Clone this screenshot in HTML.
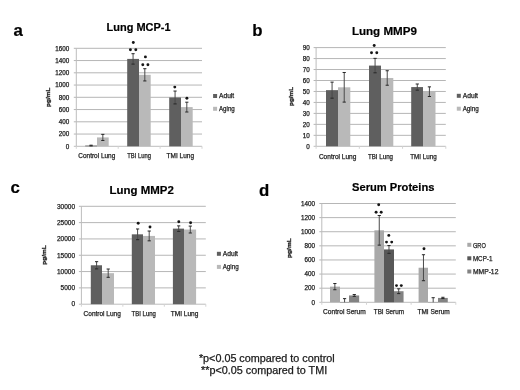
<!DOCTYPE html>
<html><head><meta charset="utf-8"><title>Figure</title>
<style>
html,body{margin:0;padding:0;background:#fff;}
body{width:520px;height:390px;overflow:hidden;}
svg{display:block;font-family:"Liberation Sans",sans-serif;filter:blur(0.35px);}
</style></head>
<body>
<svg width="520" height="390" viewBox="0 0 520 390">
<rect width="520" height="390" fill="#fff"/>
<line x1="73.80" y1="134.05" x2="202.00" y2="134.05" stroke="#b6b6b6" stroke-width="1"/>
<line x1="73.80" y1="121.80" x2="202.00" y2="121.80" stroke="#b6b6b6" stroke-width="1"/>
<line x1="73.80" y1="109.55" x2="202.00" y2="109.55" stroke="#b6b6b6" stroke-width="1"/>
<line x1="73.80" y1="97.30" x2="202.00" y2="97.30" stroke="#b6b6b6" stroke-width="1"/>
<line x1="73.80" y1="85.05" x2="202.00" y2="85.05" stroke="#b6b6b6" stroke-width="1"/>
<line x1="73.80" y1="72.80" x2="202.00" y2="72.80" stroke="#b6b6b6" stroke-width="1"/>
<line x1="73.80" y1="60.55" x2="202.00" y2="60.55" stroke="#b6b6b6" stroke-width="1"/>
<line x1="73.80" y1="48.30" x2="202.00" y2="48.30" stroke="#b6b6b6" stroke-width="1"/>
<line x1="76.30" y1="48.30" x2="76.30" y2="146.30" stroke="#bdbdbd" stroke-width="1"/>
<line x1="73.80" y1="146.30" x2="202.00" y2="146.30" stroke="#bdbdbd" stroke-width="1"/>
<line x1="76.30" y1="146.30" x2="76.30" y2="148.80" stroke="#d4d4d4" stroke-width="1"/>
<line x1="118.20" y1="146.30" x2="118.20" y2="148.80" stroke="#d4d4d4" stroke-width="1"/>
<line x1="160.10" y1="146.30" x2="160.10" y2="148.80" stroke="#d4d4d4" stroke-width="1"/>
<line x1="202.00" y1="146.30" x2="202.00" y2="148.80" stroke="#d4d4d4" stroke-width="1"/>
<rect x="85.20" y="145.56" width="11.80" height="0.74" fill="#5f5f5f"/>
<rect x="97.00" y="137.42" width="11.70" height="8.88" fill="#b9b9b9"/>
<line x1="91.08" y1="145.20" x2="91.08" y2="145.93" stroke="#4a4a4a" stroke-width="1"/>
<line x1="89.48" y1="145.20" x2="92.67" y2="145.20" stroke="#262626" stroke-width="1"/>
<line x1="89.48" y1="145.93" x2="92.67" y2="145.93" stroke="#262626" stroke-width="1"/>
<line x1="102.83" y1="134.36" x2="102.83" y2="140.48" stroke="#4a4a4a" stroke-width="1"/>
<line x1="101.23" y1="134.36" x2="104.42" y2="134.36" stroke="#262626" stroke-width="1"/>
<line x1="101.23" y1="140.48" x2="104.42" y2="140.48" stroke="#262626" stroke-width="1"/>
<rect x="127.20" y="58.90" width="11.80" height="87.40" fill="#5f5f5f"/>
<rect x="139.00" y="74.82" width="11.70" height="71.48" fill="#b9b9b9"/>
<line x1="133.07" y1="53.69" x2="133.07" y2="64.10" stroke="#4a4a4a" stroke-width="1"/>
<line x1="131.47" y1="53.69" x2="134.67" y2="53.69" stroke="#262626" stroke-width="1"/>
<line x1="131.47" y1="64.10" x2="134.67" y2="64.10" stroke="#262626" stroke-width="1"/>
<line x1="144.82" y1="68.70" x2="144.82" y2="80.95" stroke="#4a4a4a" stroke-width="1"/>
<line x1="143.22" y1="68.70" x2="146.42" y2="68.70" stroke="#262626" stroke-width="1"/>
<line x1="143.22" y1="80.95" x2="146.42" y2="80.95" stroke="#262626" stroke-width="1"/>
<rect x="169.20" y="97.48" width="11.80" height="48.82" fill="#5f5f5f"/>
<rect x="181.00" y="107.10" width="11.70" height="39.20" fill="#b9b9b9"/>
<line x1="175.07" y1="91.05" x2="175.07" y2="103.92" stroke="#4a4a4a" stroke-width="1"/>
<line x1="173.47" y1="91.05" x2="176.67" y2="91.05" stroke="#262626" stroke-width="1"/>
<line x1="173.47" y1="103.92" x2="176.67" y2="103.92" stroke="#262626" stroke-width="1"/>
<line x1="186.82" y1="102.20" x2="186.82" y2="112.00" stroke="#4a4a4a" stroke-width="1"/>
<line x1="185.22" y1="102.20" x2="188.42" y2="102.20" stroke="#262626" stroke-width="1"/>
<line x1="185.22" y1="112.00" x2="188.42" y2="112.00" stroke="#262626" stroke-width="1"/>
<text x="69.20" y="148.51" font-size="6.3" text-anchor="end" fill="#222222" stroke="#222222" stroke-width="0.25">0</text>
<text x="69.20" y="136.26" font-size="6.3" text-anchor="end" fill="#222222" stroke="#222222" stroke-width="0.25">200</text>
<text x="69.20" y="124.01" font-size="6.3" text-anchor="end" fill="#222222" stroke="#222222" stroke-width="0.25">400</text>
<text x="69.20" y="111.76" font-size="6.3" text-anchor="end" fill="#222222" stroke="#222222" stroke-width="0.25">600</text>
<text x="69.20" y="99.51" font-size="6.3" text-anchor="end" fill="#222222" stroke="#222222" stroke-width="0.25">800</text>
<text x="69.20" y="87.26" font-size="6.3" text-anchor="end" fill="#222222" stroke="#222222" stroke-width="0.25">1000</text>
<text x="69.20" y="75.01" font-size="6.3" text-anchor="end" fill="#222222" stroke="#222222" stroke-width="0.25">1200</text>
<text x="69.20" y="62.75" font-size="6.3" text-anchor="end" fill="#222222" stroke="#222222" stroke-width="0.25">1400</text>
<text x="69.20" y="50.50" font-size="6.3" text-anchor="end" fill="#222222" stroke="#222222" stroke-width="0.25">1600</text>
<text x="78.30" y="157.80" font-size="6.5" textLength="37.00" lengthAdjust="spacingAndGlyphs" text-anchor="start" fill="#222222" stroke="#222222" stroke-width="0.25">Control Lung</text>
<text x="127.20" y="157.80" font-size="6.5" textLength="23.70" lengthAdjust="spacingAndGlyphs" text-anchor="start" fill="#222222" stroke="#222222" stroke-width="0.25">TBI Lung</text>
<text x="166.60" y="157.80" font-size="6.5" textLength="27.40" lengthAdjust="spacingAndGlyphs" text-anchor="start" fill="#222222" stroke="#222222" stroke-width="0.25">TMI Lung</text>
<text x="0" y="0" font-size="6.1" font-weight="bold" fill="#222222" stroke="#222222" stroke-width="0.3" textLength="19.20" lengthAdjust="spacingAndGlyphs" transform="translate(49.60,106.90) rotate(-90)">pg/mL</text>
<rect x="213.10" y="94.00" width="4" height="4" fill="#5f5f5f"/>
<text x="219.00" y="97.90" font-size="6.7" textLength="15.20" lengthAdjust="spacingAndGlyphs" text-anchor="start" fill="#222222" stroke="#222222" stroke-width="0.25">Adult</text>
<rect x="213.10" y="106.80" width="4" height="4" fill="#b9b9b9"/>
<text x="219.00" y="110.50" font-size="6.7" textLength="15.80" lengthAdjust="spacingAndGlyphs" text-anchor="start" fill="#222222" stroke="#222222" stroke-width="0.25">Aging</text>
<text x="106.60" y="31.20" font-size="11.2" font-weight="bold" textLength="64.00" lengthAdjust="spacingAndGlyphs" text-anchor="start" fill="#000000" stroke="#000000" stroke-width="0.2">Lung MCP-1</text>
<circle cx="133.30" cy="42.50" r="1.45" fill="#151515"/>
<circle cx="130.40" cy="49.80" r="1.45" fill="#151515"/>
<circle cx="135.80" cy="49.80" r="1.45" fill="#151515"/>
<circle cx="145.40" cy="56.90" r="1.45" fill="#151515"/>
<circle cx="142.80" cy="64.80" r="1.45" fill="#151515"/>
<circle cx="147.90" cy="64.80" r="1.45" fill="#151515"/>
<circle cx="174.80" cy="87.10" r="1.45" fill="#151515"/>
<circle cx="186.90" cy="98.30" r="1.45" fill="#151515"/>
<line x1="313.60" y1="135.33" x2="445.80" y2="135.33" stroke="#b6b6b6" stroke-width="1"/>
<line x1="313.60" y1="124.37" x2="445.80" y2="124.37" stroke="#b6b6b6" stroke-width="1"/>
<line x1="313.60" y1="113.40" x2="445.80" y2="113.40" stroke="#b6b6b6" stroke-width="1"/>
<line x1="313.60" y1="102.43" x2="445.80" y2="102.43" stroke="#b6b6b6" stroke-width="1"/>
<line x1="313.60" y1="91.47" x2="445.80" y2="91.47" stroke="#b6b6b6" stroke-width="1"/>
<line x1="313.60" y1="80.50" x2="445.80" y2="80.50" stroke="#b6b6b6" stroke-width="1"/>
<line x1="313.60" y1="69.53" x2="445.80" y2="69.53" stroke="#b6b6b6" stroke-width="1"/>
<line x1="313.60" y1="58.57" x2="445.80" y2="58.57" stroke="#b6b6b6" stroke-width="1"/>
<line x1="313.60" y1="47.60" x2="445.80" y2="47.60" stroke="#b6b6b6" stroke-width="1"/>
<line x1="316.10" y1="47.60" x2="316.10" y2="146.30" stroke="#bdbdbd" stroke-width="1"/>
<line x1="313.60" y1="146.30" x2="445.80" y2="146.30" stroke="#bdbdbd" stroke-width="1"/>
<line x1="316.10" y1="146.30" x2="316.10" y2="148.80" stroke="#d4d4d4" stroke-width="1"/>
<line x1="359.33" y1="146.30" x2="359.33" y2="148.80" stroke="#d4d4d4" stroke-width="1"/>
<line x1="402.57" y1="146.30" x2="402.57" y2="148.80" stroke="#d4d4d4" stroke-width="1"/>
<line x1="445.80" y1="146.30" x2="445.80" y2="148.80" stroke="#d4d4d4" stroke-width="1"/>
<rect x="326.00" y="90.15" width="12.00" height="56.15" fill="#5f5f5f"/>
<rect x="338.00" y="87.30" width="12.30" height="59.00" fill="#b9b9b9"/>
<line x1="332.07" y1="82.14" x2="332.07" y2="98.16" stroke="#4a4a4a" stroke-width="1"/>
<line x1="330.47" y1="82.14" x2="333.68" y2="82.14" stroke="#262626" stroke-width="1"/>
<line x1="330.47" y1="98.16" x2="333.68" y2="98.16" stroke="#262626" stroke-width="1"/>
<line x1="344.22" y1="72.49" x2="344.22" y2="102.10" stroke="#4a4a4a" stroke-width="1"/>
<line x1="342.62" y1="72.49" x2="345.82" y2="72.49" stroke="#262626" stroke-width="1"/>
<line x1="342.62" y1="102.10" x2="345.82" y2="102.10" stroke="#262626" stroke-width="1"/>
<rect x="369.00" y="65.59" width="12.00" height="80.71" fill="#5f5f5f"/>
<rect x="381.00" y="77.98" width="12.30" height="68.32" fill="#b9b9b9"/>
<line x1="375.07" y1="58.35" x2="375.07" y2="72.82" stroke="#4a4a4a" stroke-width="1"/>
<line x1="373.47" y1="58.35" x2="376.68" y2="58.35" stroke="#262626" stroke-width="1"/>
<line x1="373.47" y1="72.82" x2="376.68" y2="72.82" stroke="#262626" stroke-width="1"/>
<line x1="387.22" y1="70.74" x2="387.22" y2="85.22" stroke="#4a4a4a" stroke-width="1"/>
<line x1="385.62" y1="70.74" x2="388.82" y2="70.74" stroke="#262626" stroke-width="1"/>
<line x1="385.62" y1="85.22" x2="388.82" y2="85.22" stroke="#262626" stroke-width="1"/>
<rect x="411.20" y="87.08" width="11.80" height="59.22" fill="#5f5f5f"/>
<rect x="423.00" y="91.69" width="12.50" height="54.61" fill="#b9b9b9"/>
<line x1="417.27" y1="84.01" x2="417.27" y2="90.15" stroke="#4a4a4a" stroke-width="1"/>
<line x1="415.67" y1="84.01" x2="418.88" y2="84.01" stroke="#262626" stroke-width="1"/>
<line x1="415.67" y1="90.15" x2="418.88" y2="90.15" stroke="#262626" stroke-width="1"/>
<line x1="429.42" y1="86.86" x2="429.42" y2="96.51" stroke="#4a4a4a" stroke-width="1"/>
<line x1="427.82" y1="86.86" x2="431.02" y2="86.86" stroke="#262626" stroke-width="1"/>
<line x1="427.82" y1="96.51" x2="431.02" y2="96.51" stroke="#262626" stroke-width="1"/>
<text x="309.80" y="148.51" font-size="6.3" text-anchor="end" fill="#222222" stroke="#222222" stroke-width="0.25">0</text>
<text x="309.80" y="137.54" font-size="6.3" text-anchor="end" fill="#222222" stroke="#222222" stroke-width="0.25">10</text>
<text x="309.80" y="126.57" font-size="6.3" text-anchor="end" fill="#222222" stroke="#222222" stroke-width="0.25">20</text>
<text x="309.80" y="115.61" font-size="6.3" text-anchor="end" fill="#222222" stroke="#222222" stroke-width="0.25">30</text>
<text x="309.80" y="104.64" font-size="6.3" text-anchor="end" fill="#222222" stroke="#222222" stroke-width="0.25">40</text>
<text x="309.80" y="93.67" font-size="6.3" text-anchor="end" fill="#222222" stroke="#222222" stroke-width="0.25">50</text>
<text x="309.80" y="82.70" font-size="6.3" text-anchor="end" fill="#222222" stroke="#222222" stroke-width="0.25">60</text>
<text x="309.80" y="71.74" font-size="6.3" text-anchor="end" fill="#222222" stroke="#222222" stroke-width="0.25">70</text>
<text x="309.80" y="60.77" font-size="6.3" text-anchor="end" fill="#222222" stroke="#222222" stroke-width="0.25">80</text>
<text x="309.80" y="49.80" font-size="6.3" text-anchor="end" fill="#222222" stroke="#222222" stroke-width="0.25">90</text>
<text x="318.90" y="158.60" font-size="6.5" textLength="37.50" lengthAdjust="spacingAndGlyphs" text-anchor="start" fill="#222222" stroke="#222222" stroke-width="0.25">Control Lung</text>
<text x="368.00" y="158.60" font-size="6.5" textLength="25.00" lengthAdjust="spacingAndGlyphs" text-anchor="start" fill="#222222" stroke="#222222" stroke-width="0.25">TBI Lung</text>
<text x="410.30" y="158.60" font-size="6.5" textLength="26.40" lengthAdjust="spacingAndGlyphs" text-anchor="start" fill="#222222" stroke="#222222" stroke-width="0.25">TMI Lung</text>
<text x="0" y="0" font-size="6.1" font-weight="bold" fill="#222222" stroke="#222222" stroke-width="0.3" textLength="19.20" lengthAdjust="spacingAndGlyphs" transform="translate(292.80,106.00) rotate(-90)">pg/mL</text>
<rect x="456.80" y="93.80" width="4" height="4" fill="#5f5f5f"/>
<text x="462.70" y="97.90" font-size="6.7" textLength="15.30" lengthAdjust="spacingAndGlyphs" text-anchor="start" fill="#222222" stroke="#222222" stroke-width="0.25">Adult</text>
<rect x="456.80" y="106.70" width="4" height="4" fill="#b9b9b9"/>
<text x="462.70" y="110.80" font-size="6.7" textLength="16.00" lengthAdjust="spacingAndGlyphs" text-anchor="start" fill="#222222" stroke="#222222" stroke-width="0.25">Aging</text>
<text x="351.90" y="34.70" font-size="11.2" font-weight="bold" textLength="65.00" lengthAdjust="spacingAndGlyphs" text-anchor="start" fill="#000000" stroke="#000000" stroke-width="0.2">Lung MMP9</text>
<circle cx="374.20" cy="45.50" r="1.45" fill="#151515"/>
<circle cx="371.50" cy="52.70" r="1.45" fill="#151515"/>
<circle cx="376.80" cy="52.70" r="1.45" fill="#151515"/>
<line x1="78.90" y1="287.88" x2="205.80" y2="287.88" stroke="#b6b6b6" stroke-width="1"/>
<line x1="78.90" y1="271.57" x2="205.80" y2="271.57" stroke="#b6b6b6" stroke-width="1"/>
<line x1="78.90" y1="255.25" x2="205.80" y2="255.25" stroke="#b6b6b6" stroke-width="1"/>
<line x1="78.90" y1="238.93" x2="205.80" y2="238.93" stroke="#b6b6b6" stroke-width="1"/>
<line x1="78.90" y1="222.62" x2="205.80" y2="222.62" stroke="#b6b6b6" stroke-width="1"/>
<line x1="78.90" y1="206.30" x2="205.80" y2="206.30" stroke="#b6b6b6" stroke-width="1"/>
<line x1="81.40" y1="206.30" x2="81.40" y2="304.20" stroke="#bdbdbd" stroke-width="1"/>
<line x1="78.90" y1="304.20" x2="205.80" y2="304.20" stroke="#bdbdbd" stroke-width="1"/>
<line x1="81.40" y1="304.20" x2="81.40" y2="306.70" stroke="#d4d4d4" stroke-width="1"/>
<line x1="122.87" y1="304.20" x2="122.87" y2="306.70" stroke="#d4d4d4" stroke-width="1"/>
<line x1="164.33" y1="304.20" x2="164.33" y2="306.70" stroke="#d4d4d4" stroke-width="1"/>
<line x1="205.80" y1="304.20" x2="205.80" y2="306.70" stroke="#d4d4d4" stroke-width="1"/>
<rect x="90.80" y="265.27" width="11.20" height="38.93" fill="#5f5f5f"/>
<rect x="102.00" y="273.17" width="12.00" height="31.03" fill="#b9b9b9"/>
<line x1="96.60" y1="261.68" x2="96.60" y2="268.86" stroke="#4a4a4a" stroke-width="1"/>
<line x1="95.00" y1="261.68" x2="98.20" y2="261.68" stroke="#262626" stroke-width="1"/>
<line x1="95.00" y1="268.86" x2="98.20" y2="268.86" stroke="#262626" stroke-width="1"/>
<line x1="108.20" y1="269.02" x2="108.20" y2="277.31" stroke="#4a4a4a" stroke-width="1"/>
<line x1="106.60" y1="269.02" x2="109.80" y2="269.02" stroke="#262626" stroke-width="1"/>
<line x1="106.60" y1="277.31" x2="109.80" y2="277.31" stroke="#262626" stroke-width="1"/>
<rect x="131.80" y="234.33" width="11.20" height="69.87" fill="#5f5f5f"/>
<rect x="143.00" y="235.93" width="12.00" height="68.27" fill="#b9b9b9"/>
<line x1="137.60" y1="228.98" x2="137.60" y2="239.68" stroke="#4a4a4a" stroke-width="1"/>
<line x1="136.00" y1="228.98" x2="139.20" y2="228.98" stroke="#262626" stroke-width="1"/>
<line x1="136.00" y1="239.68" x2="139.20" y2="239.68" stroke="#262626" stroke-width="1"/>
<line x1="149.20" y1="231.04" x2="149.20" y2="240.83" stroke="#4a4a4a" stroke-width="1"/>
<line x1="147.60" y1="231.04" x2="150.80" y2="231.04" stroke="#262626" stroke-width="1"/>
<line x1="147.60" y1="240.83" x2="150.80" y2="240.83" stroke="#262626" stroke-width="1"/>
<rect x="172.90" y="228.62" width="11.10" height="75.58" fill="#5f5f5f"/>
<rect x="184.00" y="229.53" width="12.10" height="74.67" fill="#b9b9b9"/>
<line x1="178.70" y1="225.88" x2="178.70" y2="231.36" stroke="#4a4a4a" stroke-width="1"/>
<line x1="177.10" y1="225.88" x2="180.30" y2="225.88" stroke="#262626" stroke-width="1"/>
<line x1="177.10" y1="231.36" x2="180.30" y2="231.36" stroke="#262626" stroke-width="1"/>
<line x1="190.30" y1="226.08" x2="190.30" y2="232.99" stroke="#4a4a4a" stroke-width="1"/>
<line x1="188.70" y1="226.08" x2="191.90" y2="226.08" stroke="#262626" stroke-width="1"/>
<line x1="188.70" y1="232.99" x2="191.90" y2="232.99" stroke="#262626" stroke-width="1"/>
<text x="75.00" y="306.47" font-size="6.5" text-anchor="end" fill="#222222" stroke="#222222" stroke-width="0.25">0</text>
<text x="75.00" y="290.16" font-size="6.5" text-anchor="end" fill="#222222" stroke="#222222" stroke-width="0.25">5000</text>
<text x="75.00" y="273.84" font-size="6.5" text-anchor="end" fill="#222222" stroke="#222222" stroke-width="0.25">10000</text>
<text x="75.00" y="257.52" font-size="6.5" text-anchor="end" fill="#222222" stroke="#222222" stroke-width="0.25">15000</text>
<text x="75.00" y="241.21" font-size="6.5" text-anchor="end" fill="#222222" stroke="#222222" stroke-width="0.25">20000</text>
<text x="75.00" y="224.89" font-size="6.5" text-anchor="end" fill="#222222" stroke="#222222" stroke-width="0.25">25000</text>
<text x="75.00" y="208.58" font-size="6.5" text-anchor="end" fill="#222222" stroke="#222222" stroke-width="0.25">30000</text>
<text x="83.60" y="315.80" font-size="6.5" textLength="37.20" lengthAdjust="spacingAndGlyphs" text-anchor="start" fill="#222222" stroke="#222222" stroke-width="0.25">Control Lung</text>
<text x="131.60" y="315.80" font-size="6.5" textLength="24.30" lengthAdjust="spacingAndGlyphs" text-anchor="start" fill="#222222" stroke="#222222" stroke-width="0.25">TBI Lung</text>
<text x="170.70" y="315.80" font-size="6.5" textLength="27.70" lengthAdjust="spacingAndGlyphs" text-anchor="start" fill="#222222" stroke="#222222" stroke-width="0.25">TMI Lung</text>
<text x="0" y="0" font-size="6.1" font-weight="bold" fill="#222222" stroke="#222222" stroke-width="0.3" textLength="19.40" lengthAdjust="spacingAndGlyphs" transform="translate(45.80,264.70) rotate(-90)">pg/mL</text>
<rect x="216.90" y="251.80" width="4" height="4" fill="#5f5f5f"/>
<text x="222.70" y="255.90" font-size="6.7" textLength="15.30" lengthAdjust="spacingAndGlyphs" text-anchor="start" fill="#222222" stroke="#222222" stroke-width="0.25">Adult</text>
<rect x="216.90" y="264.90" width="4" height="4" fill="#b9b9b9"/>
<text x="222.70" y="269.00" font-size="6.7" textLength="16.00" lengthAdjust="spacingAndGlyphs" text-anchor="start" fill="#222222" stroke="#222222" stroke-width="0.25">Aging</text>
<text x="109.60" y="193.80" font-size="11.2" font-weight="bold" textLength="64.20" lengthAdjust="spacingAndGlyphs" text-anchor="start" fill="#000000" stroke="#000000" stroke-width="0.2">Lung MMP2</text>
<circle cx="138.20" cy="223.20" r="1.45" fill="#151515"/>
<circle cx="150.00" cy="227.00" r="1.45" fill="#151515"/>
<circle cx="178.80" cy="221.80" r="1.45" fill="#151515"/>
<circle cx="190.60" cy="222.70" r="1.45" fill="#151515"/>
<line x1="319.30" y1="288.19" x2="455.80" y2="288.19" stroke="#b6b6b6" stroke-width="1"/>
<line x1="319.30" y1="274.07" x2="455.80" y2="274.07" stroke="#b6b6b6" stroke-width="1"/>
<line x1="319.30" y1="259.96" x2="455.80" y2="259.96" stroke="#b6b6b6" stroke-width="1"/>
<line x1="319.30" y1="245.84" x2="455.80" y2="245.84" stroke="#b6b6b6" stroke-width="1"/>
<line x1="319.30" y1="231.73" x2="455.80" y2="231.73" stroke="#b6b6b6" stroke-width="1"/>
<line x1="319.30" y1="217.61" x2="455.80" y2="217.61" stroke="#b6b6b6" stroke-width="1"/>
<line x1="319.30" y1="203.50" x2="455.80" y2="203.50" stroke="#b6b6b6" stroke-width="1"/>
<line x1="321.80" y1="203.50" x2="321.80" y2="302.30" stroke="#bdbdbd" stroke-width="1"/>
<line x1="319.30" y1="302.30" x2="455.80" y2="302.30" stroke="#bdbdbd" stroke-width="1"/>
<line x1="321.80" y1="302.30" x2="321.80" y2="304.80" stroke="#d4d4d4" stroke-width="1"/>
<line x1="366.47" y1="302.30" x2="366.47" y2="304.80" stroke="#d4d4d4" stroke-width="1"/>
<line x1="411.13" y1="302.30" x2="411.13" y2="304.80" stroke="#d4d4d4" stroke-width="1"/>
<line x1="455.80" y1="302.30" x2="455.80" y2="304.80" stroke="#d4d4d4" stroke-width="1"/>
<rect x="330.00" y="286.63" width="10.00" height="15.67" fill="#a9a9a9"/>
<rect x="340.00" y="302.02" width="9.00" height="0.28" fill="#585858"/>
<rect x="349.00" y="295.45" width="10.16" height="6.85" fill="#838383"/>
<line x1="334.86" y1="283.53" x2="334.86" y2="289.74" stroke="#4a4a4a" stroke-width="1"/>
<line x1="333.26" y1="283.53" x2="336.46" y2="283.53" stroke="#262626" stroke-width="1"/>
<line x1="333.26" y1="289.74" x2="336.46" y2="289.74" stroke="#262626" stroke-width="1"/>
<line x1="344.58" y1="298.63" x2="344.58" y2="302.30" stroke="#4a4a4a" stroke-width="1"/>
<line x1="342.98" y1="298.63" x2="346.18" y2="298.63" stroke="#262626" stroke-width="1"/>
<line x1="354.30" y1="294.54" x2="354.30" y2="296.37" stroke="#4a4a4a" stroke-width="1"/>
<line x1="352.70" y1="294.54" x2="355.90" y2="294.54" stroke="#262626" stroke-width="1"/>
<line x1="352.70" y1="296.37" x2="355.90" y2="296.37" stroke="#262626" stroke-width="1"/>
<rect x="374.40" y="230.32" width="9.60" height="71.98" fill="#a9a9a9"/>
<rect x="384.00" y="249.44" width="10.00" height="52.86" fill="#585858"/>
<rect x="394.00" y="291.22" width="9.56" height="11.08" fill="#838383"/>
<line x1="379.26" y1="215.50" x2="379.26" y2="245.14" stroke="#4a4a4a" stroke-width="1"/>
<line x1="377.66" y1="215.50" x2="380.86" y2="215.50" stroke="#262626" stroke-width="1"/>
<line x1="377.66" y1="245.14" x2="380.86" y2="245.14" stroke="#262626" stroke-width="1"/>
<line x1="388.98" y1="245.56" x2="388.98" y2="253.32" stroke="#4a4a4a" stroke-width="1"/>
<line x1="387.38" y1="245.56" x2="390.58" y2="245.56" stroke="#262626" stroke-width="1"/>
<line x1="387.38" y1="253.32" x2="390.58" y2="253.32" stroke="#262626" stroke-width="1"/>
<line x1="398.70" y1="288.82" x2="398.70" y2="293.62" stroke="#4a4a4a" stroke-width="1"/>
<line x1="397.10" y1="288.82" x2="400.30" y2="288.82" stroke="#262626" stroke-width="1"/>
<line x1="397.10" y1="293.62" x2="400.30" y2="293.62" stroke="#262626" stroke-width="1"/>
<rect x="418.60" y="267.72" width="9.40" height="34.58" fill="#a9a9a9"/>
<rect x="428.00" y="302.09" width="10.00" height="0.21" fill="#585858"/>
<rect x="438.00" y="297.92" width="9.76" height="4.38" fill="#838383"/>
<line x1="423.46" y1="254.73" x2="423.46" y2="280.71" stroke="#4a4a4a" stroke-width="1"/>
<line x1="421.86" y1="254.73" x2="425.06" y2="254.73" stroke="#262626" stroke-width="1"/>
<line x1="421.86" y1="280.71" x2="425.06" y2="280.71" stroke="#262626" stroke-width="1"/>
<line x1="433.18" y1="297.71" x2="433.18" y2="302.30" stroke="#4a4a4a" stroke-width="1"/>
<line x1="431.58" y1="297.71" x2="434.78" y2="297.71" stroke="#262626" stroke-width="1"/>
<line x1="442.90" y1="297.29" x2="442.90" y2="298.56" stroke="#4a4a4a" stroke-width="1"/>
<line x1="441.30" y1="297.29" x2="444.50" y2="297.29" stroke="#262626" stroke-width="1"/>
<line x1="441.30" y1="298.56" x2="444.50" y2="298.56" stroke="#262626" stroke-width="1"/>
<text x="314.90" y="304.50" font-size="6.3" text-anchor="end" fill="#222222" stroke="#222222" stroke-width="0.25">0</text>
<text x="314.90" y="290.39" font-size="6.3" text-anchor="end" fill="#222222" stroke="#222222" stroke-width="0.25">200</text>
<text x="314.90" y="276.28" font-size="6.3" text-anchor="end" fill="#222222" stroke="#222222" stroke-width="0.25">400</text>
<text x="314.90" y="262.16" font-size="6.3" text-anchor="end" fill="#222222" stroke="#222222" stroke-width="0.25">600</text>
<text x="314.90" y="248.05" font-size="6.3" text-anchor="end" fill="#222222" stroke="#222222" stroke-width="0.25">800</text>
<text x="314.90" y="233.93" font-size="6.3" text-anchor="end" fill="#222222" stroke="#222222" stroke-width="0.25">1000</text>
<text x="314.90" y="219.82" font-size="6.3" text-anchor="end" fill="#222222" stroke="#222222" stroke-width="0.25">1200</text>
<text x="314.90" y="205.71" font-size="6.3" text-anchor="end" fill="#222222" stroke="#222222" stroke-width="0.25">1400</text>
<text x="323.10" y="313.90" font-size="6.5" textLength="42.60" lengthAdjust="spacingAndGlyphs" text-anchor="start" fill="#222222" stroke="#222222" stroke-width="0.25">Control Serum</text>
<text x="373.80" y="313.90" font-size="6.5" textLength="30.20" lengthAdjust="spacingAndGlyphs" text-anchor="start" fill="#222222" stroke="#222222" stroke-width="0.25">TBI Serum</text>
<text x="417.40" y="313.90" font-size="6.5" textLength="32.40" lengthAdjust="spacingAndGlyphs" text-anchor="start" fill="#222222" stroke="#222222" stroke-width="0.25">TMI Serum</text>
<text x="0" y="0" font-size="6.1" font-weight="bold" fill="#222222" stroke="#222222" stroke-width="0.3" textLength="19.60" lengthAdjust="spacingAndGlyphs" transform="translate(291.30,257.90) rotate(-90)">pg/mL</text>
<rect x="467.30" y="242.80" width="4" height="4" fill="#a9a9a9"/>
<text x="472.90" y="247.60" font-size="6.7" textLength="12.90" lengthAdjust="spacingAndGlyphs" text-anchor="start" fill="#222222" stroke="#222222" stroke-width="0.25">GRO</text>
<rect x="467.30" y="256.30" width="4" height="4" fill="#585858"/>
<text x="472.90" y="260.60" font-size="6.7" textLength="19.50" lengthAdjust="spacingAndGlyphs" text-anchor="start" fill="#222222" stroke="#222222" stroke-width="0.25">MCP-1</text>
<rect x="467.30" y="269.50" width="4" height="4" fill="#838383"/>
<text x="472.90" y="273.50" font-size="6.7" textLength="25.50" lengthAdjust="spacingAndGlyphs" text-anchor="start" fill="#222222" stroke="#222222" stroke-width="0.25">MMP-12</text>
<text x="352.10" y="190.60" font-size="11.2" font-weight="bold" textLength="82.30" lengthAdjust="spacingAndGlyphs" text-anchor="start" fill="#000000" stroke="#000000" stroke-width="0.2">Serum Proteins</text>
<circle cx="378.70" cy="204.80" r="1.45" fill="#151515"/>
<circle cx="376.10" cy="212.20" r="1.45" fill="#151515"/>
<circle cx="381.20" cy="212.20" r="1.45" fill="#151515"/>
<circle cx="388.80" cy="235.40" r="1.45" fill="#151515"/>
<circle cx="386.50" cy="242.10" r="1.45" fill="#151515"/>
<circle cx="391.70" cy="242.10" r="1.45" fill="#151515"/>
<circle cx="396.50" cy="285.60" r="1.45" fill="#151515"/>
<circle cx="401.30" cy="285.60" r="1.45" fill="#151515"/>
<circle cx="424.00" cy="248.80" r="1.45" fill="#151515"/>
<text x="13.60" y="36.20" font-size="16.8" font-weight="bold" text-anchor="start" fill="#000" stroke="#000" stroke-width="0.2">a</text>
<text x="252.20" y="35.90" font-size="16.8" font-weight="bold" text-anchor="start" fill="#000" stroke="#000" stroke-width="0.2">b</text>
<text x="10.40" y="192.50" font-size="16.8" font-weight="bold" text-anchor="start" fill="#000" stroke="#000" stroke-width="0.2">c</text>
<text x="259.00" y="195.90" font-size="16.8" font-weight="bold" text-anchor="start" fill="#000" stroke="#000" stroke-width="0.2">d</text>
<text x="198.90" y="361.60" font-size="10.3" textLength="135.80" lengthAdjust="spacingAndGlyphs" text-anchor="start" fill="#1a1a1a" stroke="#1a1a1a" stroke-width="0.25">*p&lt;0.05 compared to control</text>
<text x="201.00" y="374.20" font-size="10.3" textLength="126.20" lengthAdjust="spacingAndGlyphs" text-anchor="start" fill="#1a1a1a" stroke="#1a1a1a" stroke-width="0.25">**p&lt;0.05 compared to TMI</text>
</svg>
</body></html>
